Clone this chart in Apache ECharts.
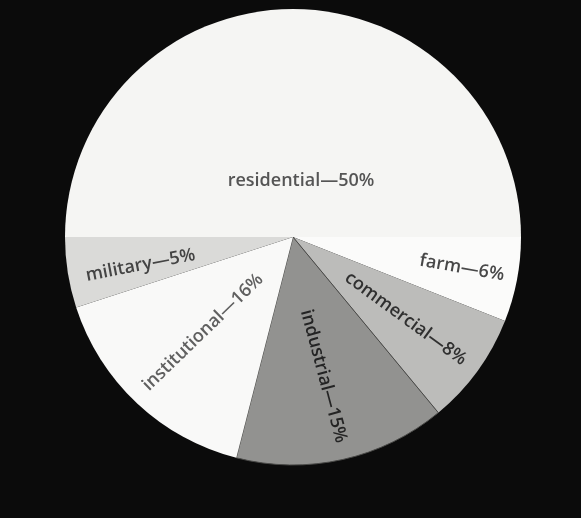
<!DOCTYPE html>
<html>
<head>
<meta charset="utf-8">
<script src="https://cdn.jsdelivr.net/npm/echarts@6/dist/echarts.min.js"></script>
<style>
  html, body { margin: 0; padding: 0; background: #0b0b0b; }
  #chart { width: 581px; height: 518px; }
</style>
</head>
<body>
<div id="chart"></div>
<script>
// land use shares, clockwise from the 9 o'clock position
const categories = ['residential', 'farm', 'commercial', 'industrial', 'institutional', 'military']
const shares = [50, 6, 8, 15, 16, 5]
const fills = ['#f5f5f3', '#fbfbfa', '#bcbcba', '#929290', '#f9f9f8', '#dadad8']
const textColors = ['#555555', '#484848', '#303030', '#242424', '#606060', '#444444']
// label tilt (deg, ccw) and on-screen nudge away from the default inside spot
const labelRotate = [0, -10, -36, -75, 44, 11]
const labelShift = [[8, 61], [54, 9], [18, 13], [5, 25], [-10, 10], [-37, 10]]

// dx/dy of a label get turned with it, so undo the turn first
const toLocal = (shift, deg) => {
  const r = deg * Math.PI / 180
  return {
    dx: shift[0] * Math.cos(r) - shift[1] * Math.sin(r),
    dy: shift[0] * Math.sin(r) + shift[1] * Math.cos(r)
  }
}

const chart = echarts.init(document.getElementById('chart'))
chart.setOption({
  backgroundColor: '#0b0b0b',
  animation: false,
  series: [{
    type: 'pie',
    center: [293, 237],
    radius: 228,
    startAngle: 180,
    clockwise: true,
    avoidLabelOverlap: false,
    label: {
      show: true,
      position: 'inside',
      fontFamily: 'Open Sans',
      fontWeight: 600,
      fontSize: 18,
      formatter: (p) => `${p.name}—${p.value}%`
    },
    labelLine: { show: false },
    itemStyle: { borderWidth: 0 },
    labelLayout: (p) => toLocal(labelShift[p.dataIndex], labelRotate[p.dataIndex]),
    data: categories.map((name, i) => ({
      name,
      value: shares[i],
      itemStyle: name === 'industrial'
        ? { color: fills[i], borderColor: '#4a4a48', borderWidth: 1 }
        : { color: fills[i] },
      label: { color: textColors[i], rotate: labelRotate[i] }
    }))
  }]
})
</script>
</body>
</html>
